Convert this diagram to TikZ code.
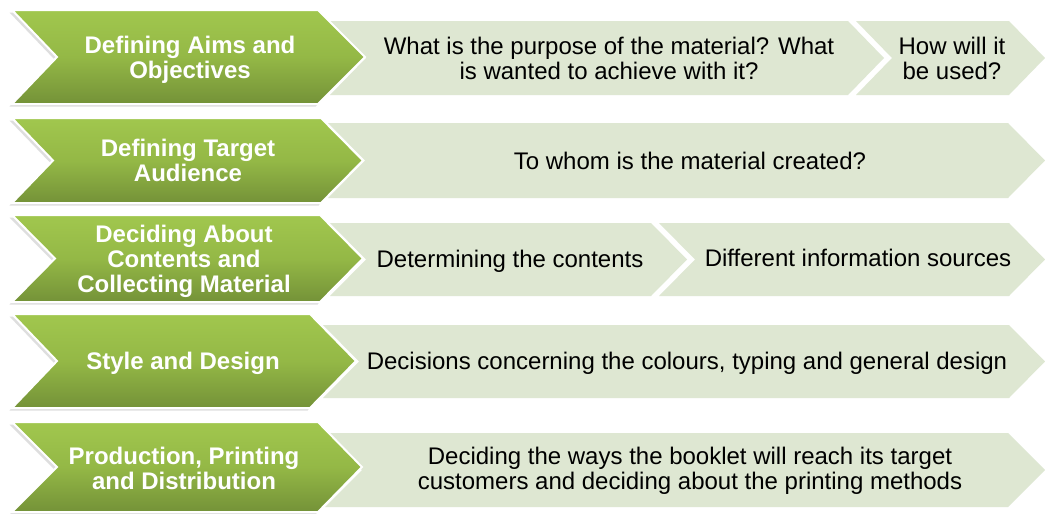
\documentclass[tikz,border=0pt]{standalone}
\usepackage{fontspec}
\setmainfont{Liberation Sans}
\usetikzlibrary{shadows}
\definecolor{gtop}{RGB}{161,199,78}
\definecolor{gmid}{RGB}{148,184,70}
\definecolor{gbot}{RGB}{116,146,56}
\definecolor{lightg}{RGB}{222,231,210}
\tikzset{
  greenbox/.style={top color=gtop, bottom color=gbot, middle color=gmid, draw=white, line width=2pt, line join=miter,
    drop shadow={shadow xshift=-2.5pt, shadow yshift=-2.5pt, opacity=0.13, fill=black}},
  lightbox/.style={fill=lightg, draw=none},
  gtext/.style={text=white, font=\fontsize{24}{25}\selectfont\bfseries, align=center, inner sep=0pt},
  ltext/.style={text=black, font=\fontsize{24}{25}\selectfont, align=center, inner sep=0pt},
}
\begin{document}
\begin{tikzpicture}[x=1pt,y=-1pt]
\useasboundingbox[fill=white] (0,0) rectangle (1045,514);
% light chevrons
\path[lightbox] (330,21)--(848,21)--(884,58)--(848,95)--(330,95)--(366,58)--cycle;
\path[lightbox] (856,21)--(1009,21)--(1045,58)--(1009,95)--(856,95)--(892,58)--cycle;
\path[lightbox] (328,123)--(1008,123)--(1045,160.5)--(1008,198)--(328,198)--(365,160.5)--cycle;
\path[lightbox] (330,223)--(651,223)--(687,259.5)--(651,296)--(330,296)--(366,259.5)--cycle;
\path[lightbox] (659,223)--(1009,223)--(1045,259.5)--(1009,296)--(659,296)--(695,259.5)--cycle;
\path[lightbox] (323,325)--(1009,325)--(1045,361.5)--(1009,398)--(323,398)--(359,361.5)--cycle;
\path[lightbox] (325,433)--(1008,433)--(1045,470)--(1008,507)--(325,507)--(362,470)--cycle;
% green chevrons
\path[greenbox] (12,10)--(318,10)--(365,57)--(318,104)--(12,104)--(57,57)--cycle;
\path[greenbox] (12,118)--(321,118)--(363,160.5)--(321,203)--(12,203)--(53,160.5)--cycle;
\path[greenbox] (12,215)--(320,215)--(363,258.5)--(320,302)--(12,302)--(55,258.5)--cycle;
\path[greenbox] (12,314)--(310,314)--(356,361)--(310,408)--(12,408)--(57,361)--cycle;
\path[greenbox] (12,422)--(318,422)--(362,467)--(318,512)--(12,512)--(57,467)--cycle;
% green texts
\node[gtext] (g1) at (190,60) {Defining Aims and\\Objectives};
\node[gtext] (g2) at (188,160) {Defining Target\\Audience};
\node[gtext] (g3) at (184,261) {Deciding About\\Contents and\\Collecting Material};
\node[gtext] (g4) at (183,363) {Style and Design};
\node[gtext] (g5) at (184,468) {Production, Printing\\and Distribution};
% light texts
\node[ltext] (l1a) at (609,58) {What is the purpose of the material? What\\is wanted to achieve with it?};
\node[ltext] (l1b) at (952,58) {How will it\\be used?};
\node[ltext] (l2) at (690,160.5) {To whom is the material created?};
\node[ltext] (l3a) at (510,261.5) {Determining the contents};
\node[ltext] (l3b) at (858,258) {Different information sources};
\node[ltext] (l4) at (687,363) {Decisions concerning the colours, typing and general design};
\node[ltext] (l5) at (690,471) {Deciding the ways the booklet will reach its target\\customers and deciding about the printing methods};
\end{tikzpicture}
\end{document}
